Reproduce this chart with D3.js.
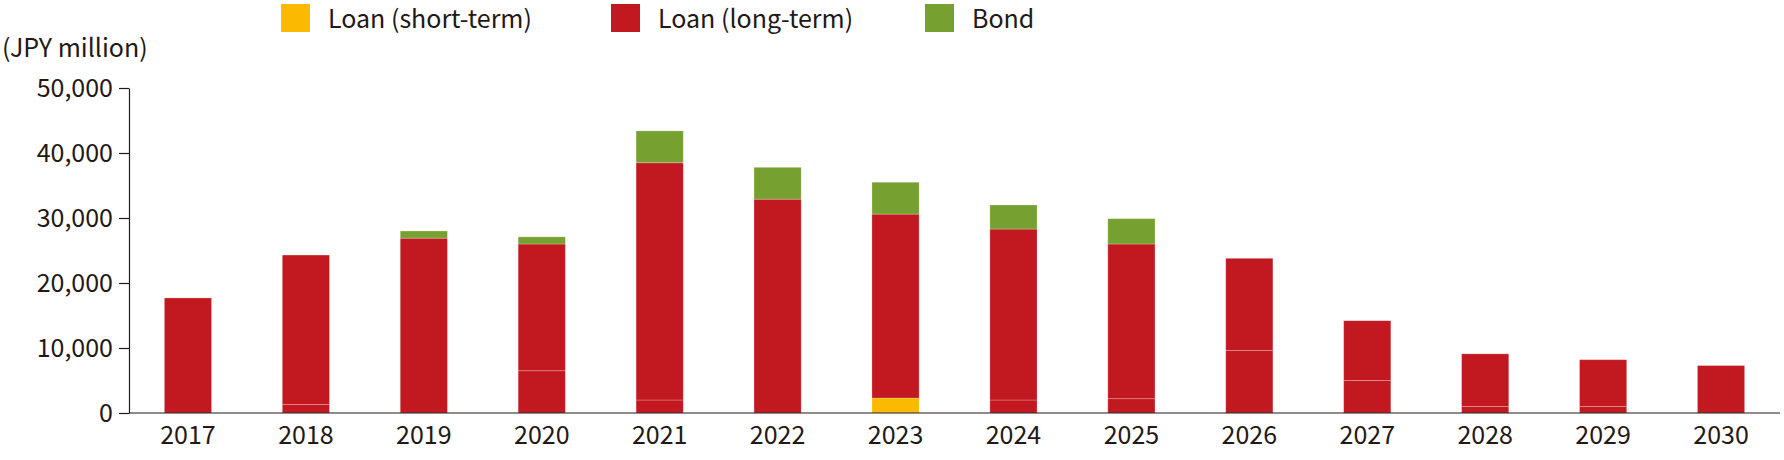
<!DOCTYPE html><html><head><meta charset="utf-8">
<script src="https://cdn.jsdelivr.net/npm/d3@7"></script>
<style>body{margin:0;background:#fff}text{font-family:"Noto Sans CJK JP","Noto Sans",sans-serif;fill:#231815}</style></head><body>
<svg id="c" width="1784" height="460"></svg>
<script>
const years=["2017","2018","2019","2020","2021","2022","2023","2024","2025","2026","2027","2028","2029","2030"];
const loanShort=[0,0,0,0,0,0,2300,0,0,0,0,0,0,0];
const loanLongA=[0,1300,0,6500,2000,0,0,2000,2200,9600,5000,1000,1000,0];
const loanLongB=[17700,23000,26900,19500,36500,32900,28300,26300,23800,14200,9200,8100,7200,7300];
const bond=[0,0,1100,1100,4900,4900,4900,3700,3900,0,0,0,0,0];
const yTicks=[0,10000,20000,30000,40000,50000];
const series=[{k:"s",v:loanShort,c:"#FBBA00"},{k:"a",v:loanLongA,c:"#C1191F"},{k:"b",v:loanLongB,c:"#C1191F"},{k:"g",v:bond,c:"#76A02F"}];
const svg=d3.select("#c");
const L=129,R=1780,B=413,T=88;
const x=d3.scaleBand().domain(years).range([L,R]).paddingInner(0.6).paddingOuter(0.3);
const y=d3.scaleLinear().domain([0,50000]).range([B,T]);
const data=years.map((yr,i)=>{const o={yr};series.forEach(s=>o[s.k]=s.v[i]);return o;});
const st=d3.stack().keys(series.map(s=>s.k))(data);
st.forEach((layer,li)=>{svg.append("g").selectAll("rect").data(layer).join("rect")
 .attr("x",d=>x(d.data.yr)).attr("width",x.bandwidth())
 .attr("y",d=>y(d[1])).attr("height",d=>Math.max(0,y(d[0])-y(d[1])))
 .attr("fill",series[li].c).attr("stroke",d=>d[1]>d[0]?"rgba(255,255,255,0.3)":"none").attr("stroke-width",0.8);});
const ya=svg.append("g").attr("transform",`translate(${L},0)`).call(d3.axisLeft(y).tickValues(yTicks).tickFormat(d3.format(",")).tickSize(10).tickSizeOuter(0));
ya.selectAll("text").attr("font-size",25).attr("dx",-3).attr("dy","0.35em");
const xa=svg.append("g").attr("transform",`translate(0,${B})`).call(d3.axisBottom(x).tickSize(0).tickSizeOuter(0));
xa.select(".domain").attr("d",`M${L},0H${R}`);
xa.selectAll("text").attr("font-size",25).attr("dy","1.1em");
svg.selectAll(".domain").attr("stroke","#231815").attr("stroke-width",1.2);
svg.selectAll(".tick line").attr("stroke","#231815").attr("stroke-width",1.2);
svg.append("text").attr("x",2).attr("y",57).attr("font-size",25).text("(JPY million)");
const leg=[["Loan (short-term)","#FBBA00",281],["Loan (long-term)","#C1191F",611],["Bond","#76A02F",925]];
leg.forEach(([t,c,lx])=>{svg.append("rect").attr("x",lx).attr("y",4).attr("width",29).attr("height",28).attr("fill",c);
 svg.append("text").attr("x",lx+47).attr("y",28).attr("font-size",25).text(t);});
</script></body></html>
